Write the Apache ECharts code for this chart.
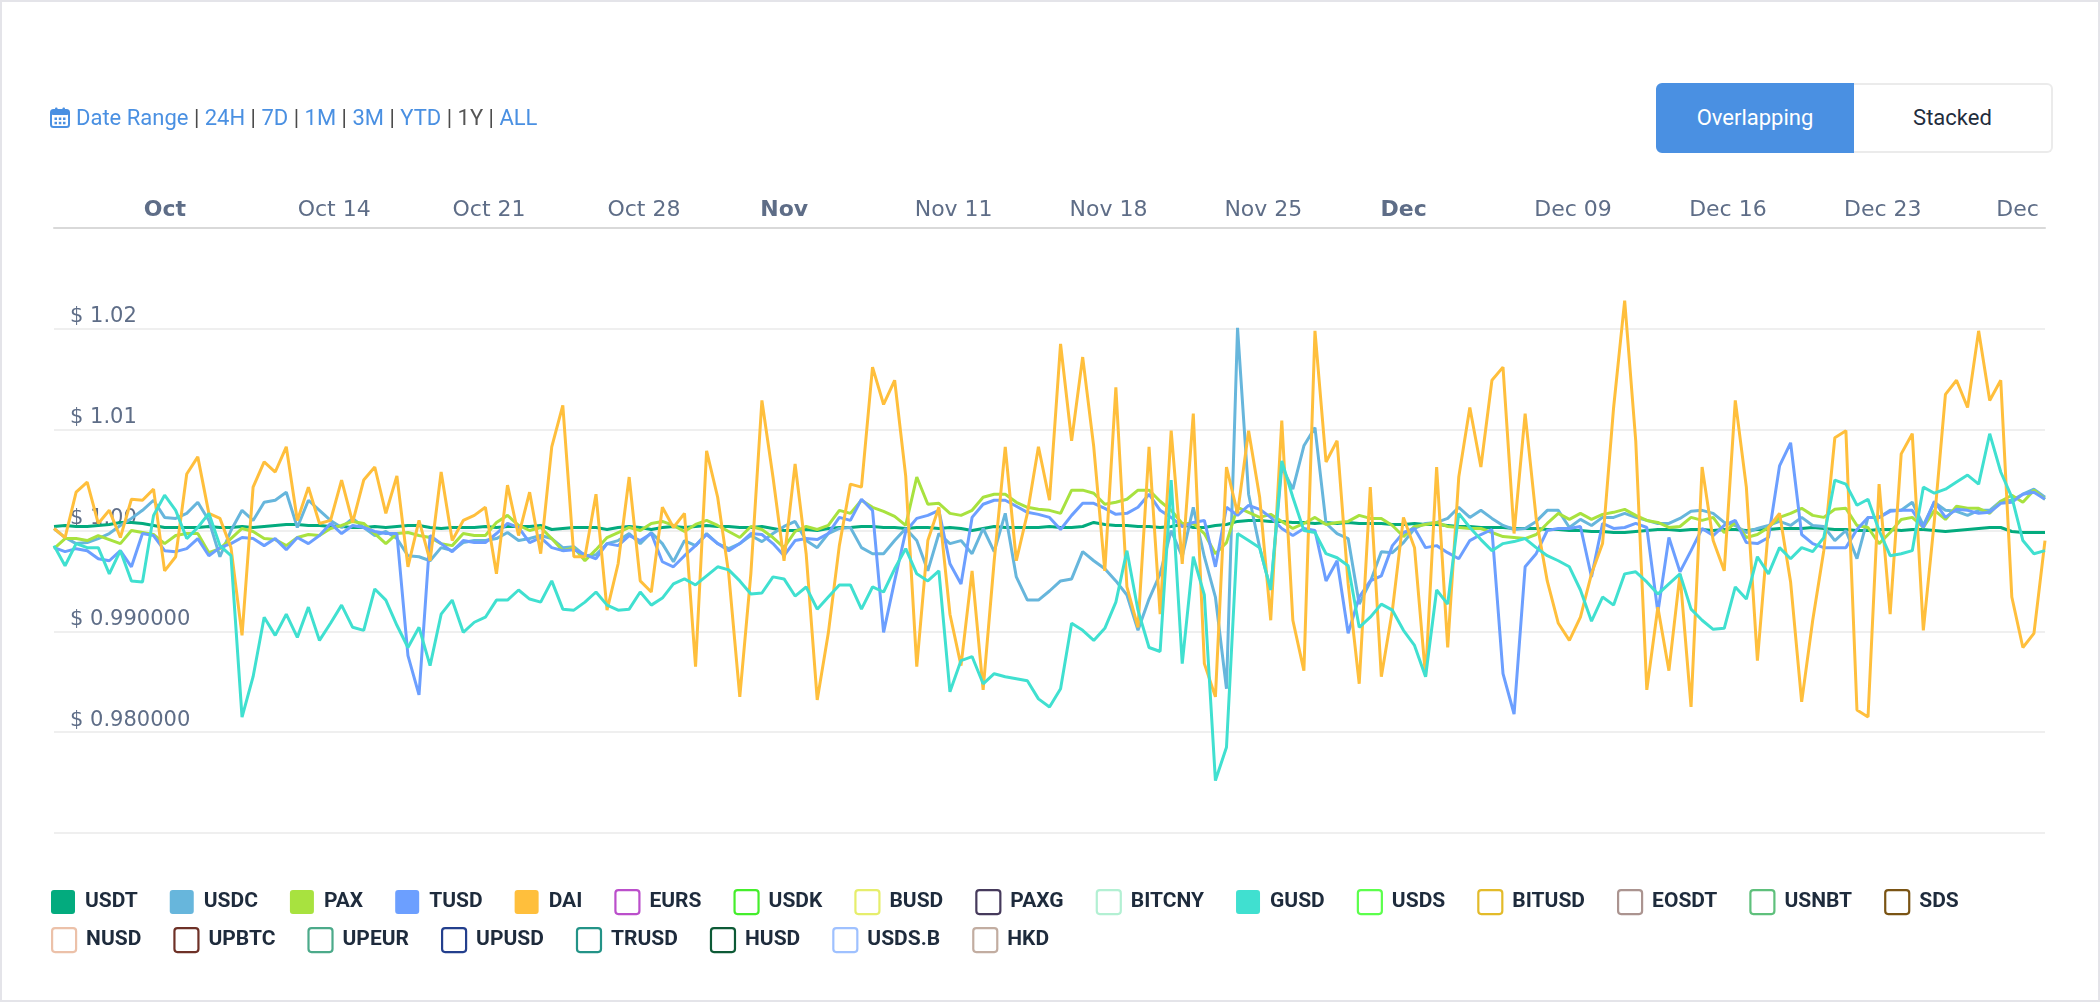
<!DOCTYPE html>
<html>
<head>
<meta charset="utf-8">
<title>Stablecoin prices</title>
<script src="https://cdn.jsdelivr.net/npm/echarts@6.0.0/dist/echarts.min.js"></script>
<style>
  body { margin: 0; background: #fff; }
  #chart { position: absolute; left: 0; top: 0; width: 2100px; height: 1002px; }
  #marco { position: absolute; left: 0; top: 0; width: 2100px; height: 1002px; box-sizing: border-box; border: 2px solid #e4e4e9; pointer-events: none; }
  #rango { position: absolute; left: 50px; top: 105px; font: 22px Roboto, sans-serif; line-height: 26px; color: #4a90e2; white-space: nowrap; }
  #rango .sep { color: #4a4a4a; }
  #rango .gris { color: #555; }
  #rango svg { vertical-align: -3px; margin-right: 6px; }
  .boton { position: absolute; top: 83px; height: 70px; box-sizing: border-box; font: 22px Roboto, sans-serif; line-height: 66px; text-align: center; }
  #overlap { left: 1656px; width: 198px; background: #4a90e2; color: #fff; border: 2px solid #4a90e2; border-radius: 6px 0 0 6px; }
  #stacked { left: 1854px; width: 199px; background: #fff; color: #1f2d3d; border: 2px solid #ebebeb; border-left: none; border-radius: 0 6px 6px 0; }
</style>
</head>
<body>
<div id="chart"></div>
<div id="rango"><svg width="20" height="21" viewBox="0 0 20 21"><rect x="1" y="3" width="18" height="17" rx="2.5" fill="none" stroke="#4a90e2" stroke-width="2"/><rect x="1" y="3" width="18" height="5" rx="2" fill="#4a90e2"/><rect x="5" y="0.5" width="2.5" height="4.5" rx="1" fill="#4a90e2"/><rect x="12.5" y="0.5" width="2.5" height="4.5" rx="1" fill="#4a90e2"/><rect x="4.5" y="10.5" width="2.5" height="2.5" fill="#4a90e2"/><rect x="8.8" y="10.5" width="2.5" height="2.5" fill="#4a90e2"/><rect x="13" y="10.5" width="2.5" height="2.5" fill="#4a90e2"/><rect x="4.5" y="14.8" width="2.5" height="2.5" fill="#4a90e2"/><rect x="8.8" y="14.8" width="2.5" height="2.5" fill="#4a90e2"/><rect x="13" y="14.8" width="2.5" height="2.5" fill="#4a90e2"/></svg>Date Range <span class="sep">|</span> 24H <span class="sep">|</span> 7D <span class="sep">|</span> 1M <span class="sep">|</span> 3M <span class="sep">|</span> YTD <span class="sep">|</span> <span class="gris">1Y</span> <span class="sep">|</span> ALL</div>
<div id="overlap" class="boton">Overlapping</div>
<div id="stacked" class="boton">Stacked</div>
<div id="marco"></div>
<script>
// Datos: un valor cada 12 horas desde el 1 de octubre 08:00
var inicio = Date.UTC(2019, 9, 1, 8);
var paso = 12 * 3600 * 1000;
var fin = Date.UTC(2019, 11, 30, 8);

var usdt = [1.0004,1.0005,1.0004,1.0004,1.0005,1.0006,1.0008,1.0008,1.0007,1.0005,1.0003,1.0003,1.0003,1.0003,1.0004,1.0003,1.0003,1.0004,1.0003,1.0004,1.0005,1.0006,1.0006,1.0005,1.0005,1.0004,1.0004,1.0003,1.0003,1.0004,1.0003,1.0004,1.0005,1.0005,1.0003,1.0002,
  1.0003,1.0003,1.0003,1.0004,1.0003,1.0004,1.0004,1.0004,1.0005,1.0001,1.0002,1.0003,1.0003,1.0003,1.0001,1.0003,1.0004,1.0003,1.0001,1.0003,1.0004,1.0003,1.0004,1.0005,1.0004,1.0004,1.0003,1.0003,1.0004,1.0002,1.0000,1.0000,1.0001,1.0000,1.0002,1.0003,
  1.0003,1.0004,1.0004,1.0003,1.0003,1.0002,1.0003,1.0003,1.0002,1.0003,1.0002,1.0000,1.0002,1.0004,1.0003,1.0003,1.0003,1.0003,1.0004,1.0003,1.0003,1.0004,1.0008,1.0006,1.0005,1.0005,1.0004,1.0004,1.0003,1.0004,1.0006,1.0003,1.0003,1.0005,1.0006,
  1.0009,1.0010,1.0010,1.0009,1.0009,1.0008,1.0008,1.0007,1.0008,1.0007,1.0008,1.0007,1.0007,1.0007,1.0006,1.0006,1.0007,1.0006,1.0006,1.0005,1.0004,1.0004,1.0003,1.0003,1.0003,1.0002,1.0002,1.0002,1.0001,1.0001,1.0000,1.0000,0.9999,0.9999,0.9998,
  0.9998,0.9999,1.0000,1.0001,1.0001,1.0000,1.0001,1.0001,1.0000,1.0001,1.0001,1.0000,1.0001,1.0001,1.0002,1.0002,1.0002,1.0003,1.0002,1.0001,1.0001,1.0000,1.0000,1.0001,1.0001,1.0000,1.0001,1.0001,1.0000,0.9999,1.0000,1.0001,1.0002,1.0003,1.0003,0.9999,0.9998,0.9998,0.9998];

var usdc = [1.0002,0.9993,0.9987,0.9988,0.9992,0.9997,1.0005,1.0012,1.0020,1.0030,1.0013,1.0012,1.0017,1.0028,1.0010,0.9974,1.0000,1.0020,1.0010,1.0028,1.0030,1.0038,1.0003,1.0030,1.0020,1.0010,1.0003,1.0012,1.0003,0.9995,0.9999,0.9992,0.9975,0.9974,0.9970,0.9983,
  0.9980,0.9988,0.9990,0.9990,0.9992,0.9998,0.9990,0.9992,0.9995,0.9992,0.9983,0.9984,0.9975,0.9976,0.9987,0.9990,0.9997,0.9987,0.9998,0.9987,0.9969,0.9990,0.9985,0.9997,0.9987,0.9982,0.9987,0.9995,0.9989,0.9997,1.0004,1.0009,0.9990,0.9983,0.9997,1.0002,
  1.0003,0.9983,0.9977,0.9977,0.9990,1.0002,0.9990,0.9960,0.9997,0.9987,0.9990,0.9977,1.0002,0.9979,1.0017,0.9954,0.9931,0.9931,0.9940,0.9950,0.9952,0.9979,0.9970,0.9962,0.9950,0.9936,0.9901,0.9932,0.9957,1.0000,0.9974,1.0023,0.9974,0.9934,0.9843,
  1.0201,1.0036,0.9983,0.9941,1.0063,1.0041,1.0084,1.0102,1.0007,0.9997,0.9992,0.9927,0.9949,0.9979,0.9978,0.9988,1.0002,1.0007,1.0008,1.0012,1.0023,1.0013,1.0020,1.0012,1.0005,1.0001,1.0002,1.0009,1.0020,1.0020,1.0003,1.0011,1.0005,1.0013,1.0013,
  1.0017,1.0013,1.0010,1.0007,1.0007,1.0012,1.0019,1.0020,1.0017,1.0008,1.0005,0.9998,1.0002,1.0005,1.0009,1.0005,1.0013,1.0005,1.0004,0.9990,1.0000,0.9972,1.0013,1.0013,1.0020,1.0020,1.0028,1.0005,1.0028,1.0020,1.0019,1.0015,1.0020,1.0020,1.0029,1.0030,1.0036,1.0041,1.0033];

var pax = [0.9982,0.9992,0.9992,0.9990,0.9995,0.9991,0.9987,1.0000,0.9998,0.9996,0.9987,0.9995,0.9997,0.9997,0.9978,0.9982,0.9992,1.0002,0.9999,0.9992,0.9991,0.9985,0.9993,0.9996,0.9995,1.0002,1.0005,1.0009,1.0007,0.9997,0.9987,0.9997,0.9998,0.9995,0.9993,0.9987,
  0.9985,0.9997,0.9995,0.9995,1.0008,1.0015,1.0005,1.0000,1.0003,0.9992,0.9980,0.9983,0.9970,0.9981,0.9993,0.9998,1.0003,1.0000,1.0007,1.0009,1.0005,0.9999,1.0006,1.0010,1.0005,0.9999,0.9993,1.0004,1.0001,0.9993,0.9983,0.9999,1.0004,1.0001,1.0005,1.0020,
  1.0017,1.0030,1.0023,1.0019,1.0014,1.0005,1.0053,1.0026,1.0027,1.0017,1.0015,1.0020,1.0033,1.0036,1.0036,1.0028,1.0023,1.0021,1.0020,1.0017,1.0040,1.0040,1.0037,1.0026,1.0028,1.0031,1.0040,1.0040,1.0029,1.0020,1.0007,1.0007,0.9997,0.9977,0.9988,
  1.0023,1.0018,1.0013,1.0016,1.0009,1.0002,1.0007,1.0013,1.0006,1.0008,1.0009,1.0015,1.0012,1.0012,1.0005,0.9994,1.0004,1.0006,1.0008,1.0004,1.0003,1.0002,1.0002,0.9998,0.9994,0.9993,0.9992,0.9996,1.0007,1.0017,1.0011,1.0017,1.0011,1.0016,1.0018,
  1.0021,1.0015,1.0010,1.0008,1.0003,1.0004,1.0013,1.0010,1.0013,0.9998,1.0008,0.9993,0.9996,1.0003,1.0013,1.0017,1.0022,1.0015,1.0013,1.0021,1.0022,1.0005,1.0003,0.9987,0.9998,1.0011,1.0013,1.0003,1.0020,1.0011,1.0024,1.0022,1.0022,1.0017,1.0029,1.0035,1.0028,1.0040,1.0031];

var tusd = [0.9983,0.9979,0.9982,0.9980,0.9972,0.9970,0.9980,0.9964,0.9997,0.9995,0.9980,0.9979,0.9982,0.9992,0.9975,0.9983,0.9987,0.9993,0.9992,0.9985,0.9992,0.9981,0.9993,0.9987,0.9995,1.0007,0.9997,1.0005,1.0003,0.9999,0.9997,0.9997,0.9876,0.9837,0.9995,0.9987,
  0.9979,0.9990,0.9988,0.9988,0.9997,1.0007,1.0003,0.9988,0.9993,0.9983,0.9980,0.9981,0.9976,0.9972,0.9987,0.9985,0.9995,0.9990,0.9997,0.9969,0.9964,0.9975,0.9985,0.9996,0.9987,0.9980,0.9987,0.9997,0.9996,0.9987,0.9975,0.9990,0.9992,0.9991,0.9997,1.0013,
  1.0010,1.0031,1.0020,0.9899,0.9950,0.9999,1.0012,1.0015,1.0020,0.9967,0.9947,1.0013,1.0026,1.0030,1.0030,1.0024,1.0018,1.0016,1.0013,1.0001,1.0015,1.0027,1.0027,1.0022,1.0016,1.0017,1.0023,1.0036,1.0020,1.0013,1.0004,1.0008,1.0010,0.9964,1.0023,
  1.0015,1.0025,1.0021,1.0013,1.0002,0.9995,1.0002,1.0000,0.9950,0.9970,0.9898,0.9934,0.9950,0.9955,0.9985,0.9998,1.0002,0.9983,0.9985,0.9978,0.9972,0.9990,0.9996,1.0001,0.9858,0.9818,0.9964,0.9977,1.0000,1.0002,1.0002,1.0004,0.9954,1.0007,1.0002,
  1.0003,1.0007,1.0003,0.9919,0.9993,0.9959,0.9980,1.0002,0.9995,1.0005,1.0010,0.9988,0.9987,0.9993,1.0064,1.0087,0.9996,0.9987,0.9983,0.9983,0.9983,1.0001,1.0013,1.0013,1.0019,1.0020,1.0020,1.0003,1.0029,1.0013,1.0021,1.0020,1.0017,1.0018,1.0027,1.0028,1.0036,1.0038,1.0031];

var dai = [1.0002,0.9993,1.0038,1.0048,1.0007,1.0020,0.9993,1.0031,1.0030,1.0041,0.9960,0.9974,1.0056,1.0073,1.0017,1.0012,0.9983,0.9896,1.0043,1.0068,1.0058,1.0083,1.0010,1.0043,1.0007,1.0010,1.0050,1.0008,1.0050,1.0063,1.0017,1.0054,0.9964,1.0010,0.9970,1.0058,
  0.9990,1.0010,1.0015,1.0023,0.9957,1.0045,0.9995,1.0038,0.9977,1.0083,1.0124,0.9974,0.9974,1.0036,0.9921,0.9967,1.0053,0.9950,0.9939,1.0023,1.0003,1.0017,0.9865,1.0079,1.0033,0.9957,0.9835,0.9957,1.0129,1.0053,0.9970,1.0066,0.9977,0.9832,0.9898,0.9985,
  1.0046,1.0043,1.0162,1.0125,1.0149,1.0054,0.9865,0.9990,1.0023,0.9917,0.9866,0.9960,0.9842,0.9970,1.0083,0.9970,1.0017,1.0083,1.0030,1.0185,1.0089,1.0172,1.0083,0.9960,1.0142,0.9944,0.9904,1.0083,0.9917,1.0099,0.9967,1.0116,0.9868,0.9835,1.0063,
  1.0017,1.0099,1.0033,0.9911,1.0109,0.9911,0.9861,1.0198,1.0068,1.0089,0.9947,0.9848,1.0043,0.9855,0.9921,1.0013,0.9983,0.9855,1.0063,0.9884,1.0053,1.0122,1.0063,1.0149,1.0162,0.9997,1.0116,1.0012,0.9950,0.9908,0.9891,0.9914,0.9957,0.9987,1.0122,
  1.0228,1.0089,0.9842,0.9924,0.9861,0.9957,0.9825,1.0063,0.9990,0.9960,1.0129,1.0043,0.9871,1.0003,1.0017,0.9949,0.9830,0.9911,0.9980,1.0092,1.0099,0.9822,0.9815,1.0046,0.9917,1.0076,1.0096,0.9901,1.0010,1.0135,1.0149,1.0122,1.0198,1.0129,1.0149,0.9934,0.9884,0.9898,0.9990];

var gusd = [0.9985,0.9965,0.9987,0.9983,0.9983,0.9957,0.9980,0.9950,0.9949,1.0015,1.0035,1.0020,0.9992,1.0003,1.0017,0.9985,0.9975,0.9815,0.9855,0.9914,0.9896,0.9917,0.9894,0.9924,0.9891,0.9908,0.9926,0.9904,0.9901,0.9942,0.9931,0.9906,0.9884,0.9904,0.9866,0.9917,
  0.9931,0.9899,0.9909,0.9914,0.9931,0.9931,0.9941,0.9932,0.9929,0.9950,0.9922,0.9921,0.9929,0.9939,0.9926,0.9921,0.9922,0.9939,0.9926,0.9933,0.9947,0.9952,0.9946,0.9955,0.9964,0.9961,0.9950,0.9937,0.9938,0.9954,0.9952,0.9935,0.9944,0.9922,0.9934,0.9946,
  0.9946,0.9922,0.9944,0.9939,0.9962,0.9982,0.9957,0.9950,0.9960,0.9840,0.9871,0.9875,0.9848,0.9858,0.9855,0.9853,0.9851,0.9833,0.9825,0.9843,0.9908,0.9901,0.9891,0.9903,0.9929,0.9980,0.9921,0.9884,0.9880,1.0050,0.9868,0.9974,0.9936,0.9752,0.9785,
  0.9997,0.9990,0.9983,0.9941,1.0069,1.0033,1.0000,0.9998,0.9977,0.9973,0.9965,0.9904,0.9914,0.9927,0.9921,0.9901,0.9886,0.9855,0.9941,0.9927,1.0017,1.0003,0.9991,0.9980,0.9987,0.9989,0.9992,0.9983,0.9975,0.9970,0.9964,0.9941,0.9910,0.9934,0.9926,
  0.9957,0.9959,0.9949,0.9937,0.9947,0.9957,0.9922,0.9911,0.9902,0.9903,0.9944,0.9932,0.9974,0.9957,0.9983,0.9972,0.9983,0.9979,0.9993,1.0050,1.0046,1.0025,1.0031,1.0000,0.9975,0.9977,0.9980,1.0043,1.0037,1.0041,1.0048,1.0055,1.0046,1.0096,1.0058,1.0033,0.9990,0.9977,0.9980];

// Marcas del eje X (lunes) y del eje Y
var xTickFechas = ['2019-10-07', '2019-10-14', '2019-10-21', '2019-10-28', '2019-11-04', '2019-11-11', '2019-11-18', '2019-11-25', '2019-12-02', '2019-12-09', '2019-12-16', '2019-12-23', '2019-12-30'];
var xTickTextos = ['Oct', 'Oct 14', 'Oct 21', 'Oct 28', 'Nov', 'Nov 11', 'Nov 18', 'Nov 25', 'Dec', 'Dec 09', 'Dec 16', 'Dec 23', 'Dec'];
var xTickEstilo = ['b', 'n', 'n', 'n', 'b', 'n', 'n', 'n', 'b', 'n', 'n', 'n', 'e'];
var yMin = 0.97;
var yMax = 1.03;
var yPaso = 0.01;

// Leyenda en dos filas
var fila1 = ['USDT', 'USDC', 'PAX', 'TUSD', 'DAI', 'EURS', 'USDK', 'BUSD', 'PAXG', 'BITCNY', 'GUSD', 'USDS', 'BITUSD', 'EOSDT', 'USNBT', 'SDS'];
var fila2 = ['NUSD', 'UPBTC', 'UPEUR', 'UPUSD', 'TRUSD', 'HUSD', 'USDS.B', 'HKD'];
var colores = {
  USDT: '#03ab7e', USDC: '#67b6dc', PAX: '#a8e23f', TUSD: '#6c9fff', DAI: '#ffbf3c',
  EURS: '#bb4fcb', USDK: '#45ee2c', BUSD: '#e6ee6c', PAXG: '#463a5c', BITCNY: '#b3f0d3',
  GUSD: '#40e0d0', USDS: '#5cff4c', BITUSD: '#e3bb2a', EOSDT: '#ab9490', USNBT: '#5fc07c',
  SDS: '#7a5414', NUSD: '#ecc1a9', UPBTC: '#6e3127', UPEUR: '#4caa8a', UPUSD: '#233f8d',
  TRUSD: '#239387', HUSD: '#0d5a36', 'USDS.B': '#9fc1ff', HKD: '#c2ada1'
};
var activos = { USDT: usdt, USDC: usdc, PAX: pax, TUSD: tusd, DAI: dai, GUSD: gusd };

var xTickValores = xTickFechas.map(function (d) { return Date.parse(d); });

function puntos(valores) {
  return valores.map(function (v, i) { return [inicio + i * paso, v]; });
}

function itemLeyenda(nombre) {
  var c = colores[nombre];
  if (activos[nombre]) {
    return { name: nombre, itemStyle: { color: c, borderWidth: 0 } };
  }
  return { name: nombre, itemStyle: { color: '#ffffff', borderColor: c, borderWidth: 2.2 } };
}

var series = fila1.concat(fila2).map(function (nombre) {
  return {
    name: nombre,
    type: 'line',
    data: activos[nombre] ? puntos(activos[nombre]) : [],
    showSymbol: false,
    symbol: 'none',
    color: colores[nombre],
    itemStyle: { color: colores[nombre] },
    lineStyle: { width: 3, color: colores[nombre] },
    emphasis: { disabled: true }
  };
});

// Cuadro con esquinas poco redondeadas para la leyenda
var iconoLeyenda = 'path://M3,0H21A3,3,0,0,1,24,3V21A3,3,0,0,1,21,24H3A3,3,0,0,1,0,21V3A3,3,0,0,1,3,0Z';

var estiloLeyenda = {
  orient: 'horizontal',
  left: 51,
  width: 2000,
  padding: 0,
  icon: iconoLeyenda,
  itemWidth: 24,
  itemHeight: 24,
  itemGap: 32,
  selectedMode: false,
  textStyle: { fontFamily: 'Roboto', fontWeight: 'bold', fontSize: 21, color: '#1e2b3c', padding: [0, 0, 0, 5] }
};

var chart = echarts.init(document.getElementById('chart'));

// El eje X es numérico (milisegundos) para poder fijar las marcas en los lunes
var option = {
  animation: false,
  textStyle: { fontFamily: 'DejaVu Sans' },
  grid: { left: 54, right: 55, top: 228, bottom: 169 },
  legend: [
    Object.assign({}, estiloLeyenda, { top: 889, data: fila1.map(itemLeyenda) }),
    Object.assign({}, estiloLeyenda, { top: 927, data: fila2.map(itemLeyenda) })
  ],
  xAxis: {
    type: 'value',
    position: 'top',
    min: inicio,
    max: fin,
    scale: true,
    axisLine: { show: true, onZero: false, lineStyle: { color: '#d9d9d9', width: 2 } },
    axisTick: { show: false },
    splitLine: { show: false },
    axisLabel: {
      customValues: xTickValores,
      margin: 5,
      formatter: function (value) {
        var k = xTickValores.indexOf(value);
        if (k < 0) return '';
        return '{' + xTickEstilo[k] + '|' + xTickTextos[k] + '}';
      },
      rich: {
        n: { fontFamily: 'DejaVu Sans', fontSize: 22, lineHeight: 26, color: '#5e6d87' },
        b: { fontFamily: 'DejaVu Sans', fontWeight: 'bold', fontSize: 22, lineHeight: 26, color: '#5e6d87', padding: [0, 29, 0, 0] },
        e: { fontFamily: 'DejaVu Sans', fontSize: 22, lineHeight: 26, color: '#5e6d87', padding: [0, 40, 0, 0] }
      }
    }
  },
  yAxis: {
    type: 'value',
    min: yMin,
    max: yMax,
    interval: yPaso,
    axisLine: { show: false },
    axisTick: { show: false },
    splitLine: { lineStyle: { color: '#efefef', width: 2 } },
    axisLabel: {
      inside: true,
      margin: 16,
      align: 'left',
      verticalAlign: 'bottom',
      fontFamily: 'DejaVu Sans',
      fontSize: 21,
      lineHeight: 24,
      color: '#5e6d87',
      formatter: function (v) {
        var r = Math.round(v * 100) / 100;
        if (r <= yMin + 0.001 || r >= yMax - 0.001) return '';
        return r >= 1 ? '$ ' + r.toFixed(2) : '$ ' + r.toFixed(6);
      }
    }
  },
  series: series
};

chart.setOption(option);
</script>
</body>
</html>
